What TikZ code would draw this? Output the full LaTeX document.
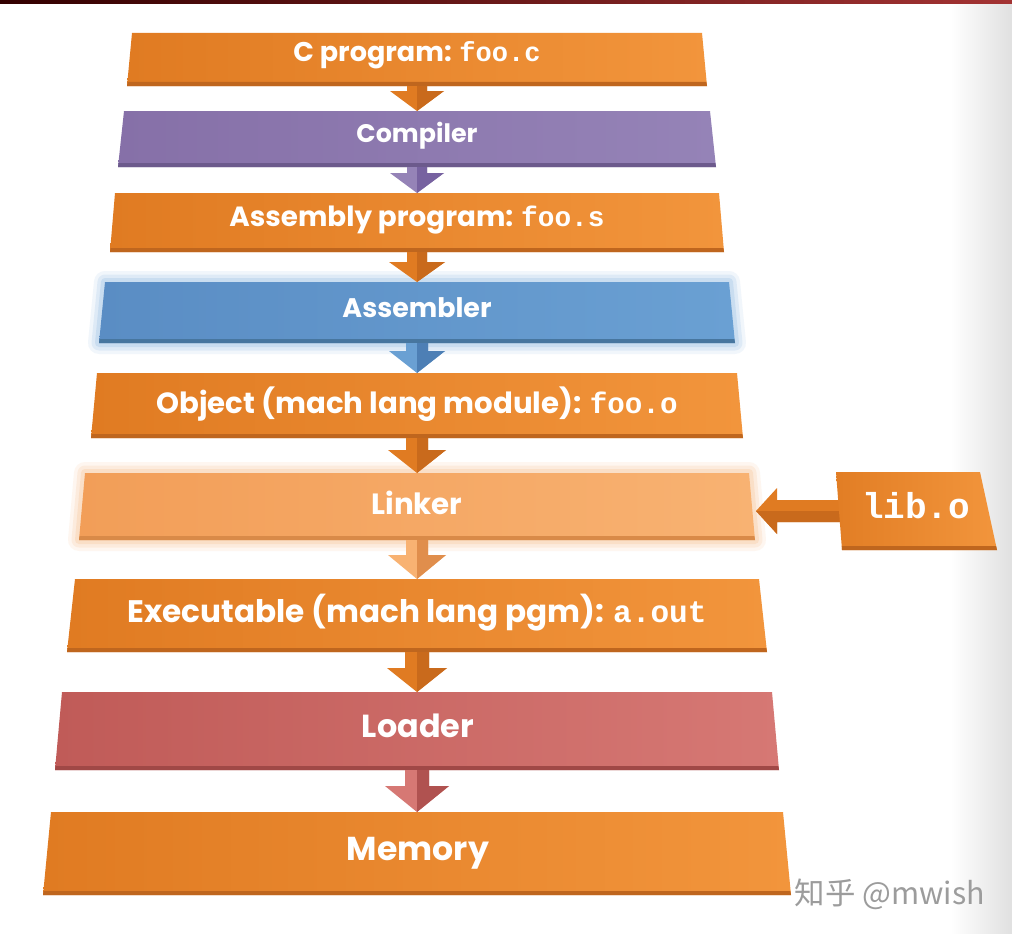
\documentclass[tikz,border=0pt]{standalone}
\usepackage{fontspec}
\setmainfont{Poppins}
\setmonofont{Liberation Mono}
\newfontfamily\cjkfont{Noto Sans CJK SC}
\usetikzlibrary{calc}
\definecolor{OrL}{HTML}{E07B22}
\definecolor{OrR}{HTML}{F2953C}
\definecolor{OrE}{HTML}{BF661E}
\definecolor{OrD}{HTML}{C96A1C}
\definecolor{PuL}{HTML}{8670A8}
\definecolor{PuR}{HTML}{9583B7}
\definecolor{PuE}{HTML}{6C5A8C}
\definecolor{PuD}{HTML}{7762A0}
\definecolor{BlL}{HTML}{5A8DC4}
\definecolor{BlR}{HTML}{6AA0D3}
\definecolor{BlE}{HTML}{47769F}
\definecolor{BlD}{HTML}{4D7FB5}
\definecolor{BlG}{HTML}{8DB7E2}
\definecolor{LkL}{HTML}{F29E58}
\definecolor{LkR}{HTML}{F8B272}
\definecolor{LkE}{HTML}{D98A48}
\definecolor{LkD}{HTML}{E08E4C}
\definecolor{LkG}{HTML}{F7BD88}
\definecolor{LoL}{HTML}{C05B58}
\definecolor{LoR}{HTML}{D67874}
\definecolor{LoE}{HTML}{A04846}
\definecolor{LoD}{HTML}{B05250}
\definecolor{WM}{HTML}{9C9C9C}
\newcommand\stagebox[8]{%
  \shade[left color=#6, right color=#7] ({417-#4},#2) -- ({417+#4},#2) -- ({417+#5},#3) -- ({417-#5},#3) -- cycle;
  \fill[#8] ({417-#5+0.6},{#3-4}) -- ({417+#5-0.6},{#3-4}) -- ({417+#5},#3) -- ({417-#5},#3) -- cycle;
  \coordinate (#1t) at (417,#2);
  \coordinate (#1b) at (417,#3);
}
\newcommand\stageglow[5]{%
  \foreach \w/\o in {22/0.12,15/0.18,8/0.25}{
    \draw[#5, line width=\w pt, opacity=\o, line join=round]
      ({417-#3},#1) -- ({417+#3},#1) -- ({417+#4},#2) -- ({417-#4},#2) -- cycle;
  }
}
\newcommand\flowarrow[7]{%
  \fill[#6] ($(#1)+(-#3,0)$) -- ($(#2)+(-#3,-#5)$) -- ($(#2)+(-#4,-#5)$) -- (#2)
     -- ($(#2)+(#4,-#5)$) -- ($(#2)+(#3,-#5)$) -- ($(#1)+(#3,0)$) -- cycle;
  \fill[#7] (#1) -- ($(#1)+(#3,0)$) -- ($(#2)+(#3,-#5)$) -- ($(#2)+(#4,-#5)$) -- (#2) -- cycle;
}
\tikzset{lbl/.style={text=white, font=\bfseries, inner sep=0pt, anchor=base}}
\begin{document}
\begin{tikzpicture}[x=1pt,y=-1pt]
\useasboundingbox (0,0) rectangle (1012,934);
\fill[white] (0,0) rectangle (1012,934);
\shade[left color=white, right color=black!12] (950,0) rectangle (1012,934);
\shade[left color=black!80!red, right color=red!55!black!80] (0,0) rectangle (1012,3.5);
% glows
\stageglow{282}{343}{312}{318}{BlG}
\stageglow{473}{540}{332}{338}{LkG}
% boxes
\stagebox{b1}{33}{86}{285}{290}{OrL}{OrR}{OrE}
\stagebox{b2}{111}{167}{293}{299}{PuL}{PuR}{PuE}
\stagebox{b3}{193}{252}{302}{307}{OrL}{OrR}{OrE}
\stagebox{b4}{282}{343}{312}{318}{BlL}{BlR}{BlE}
\stagebox{b5}{373}{438}{320}{326}{OrL}{OrR}{OrE}
\stagebox{b6}{473}{540}{332}{338}{LkL}{LkR}{LkE}
\stagebox{b7}{579}{652}{342}{350}{OrL}{OrR}{OrE}
\stagebox{b8}{692}{770}{355}{362}{LoL}{LoR}{LoE}
\stagebox{b9}{812}{895}{366}{374}{OrL}{OrR}{OrE}
% arrows
\flowarrow{b1b}{b2t}{10}{27}{20}{OrL}{OrD}
\flowarrow{b2b}{b3t}{10}{27}{20}{PuR}{PuD}
\flowarrow{b3b}{b4t}{10}{28}{20}{OrL}{OrD}
\flowarrow{b4b}{b5t}{11}{28}{22}{BlR}{BlD}
\flowarrow{b5b}{b6t}{11}{29}{23}{OrL}{OrD}
\flowarrow{b6b}{b7t}{11}{29}{24}{LkR}{LkD}
\flowarrow{b7b}{b8t}{12}{30}{24}{OrL}{OrD}
\flowarrow{b8b}{b9t}{12}{32}{26}{LoR}{LoD}
% lib.o
\coordinate (libw) at (838,511);
\coordinate (lnkr) at (756,511);
\fill[OrL] ($(libw)+(2,-11)$) -- ($(lnkr)+(21,-11)$) -- ($(lnkr)+(21,-23)$) -- (lnkr)
   -- ($(lnkr)+(21,23)$) -- ($(lnkr)+(21,11)$) -- ($(libw)+(2,11)$) -- cycle;
\fill[OrD] (lnkr) -- ($(lnkr)+(21,23)$) -- ($(lnkr)+(21,11)$) -- ($(libw)+(2,11)$) -- ($(libw)+(2,0)$) -- cycle;
\shade[left color=OrL!90!OrR, right color=OrR] (836,472) -- (980,472) -- (997,550) -- (842,550) -- cycle;
\fill[OrE] (841.9,546) -- (996.1,546) -- (997,550) -- (842,550) -- cycle;
% labels
\node[lbl] (n1) at (417,62) {\resizebox{247pt}{!}{C program: \texttt{foo.c}}};
\node[lbl] (n2) at (417,142) {\resizebox{121pt}{!}{Compiler}};
\node[lbl] (n3) at (417,226) {\resizebox{375pt}{!}{Assembly program: \texttt{foo.s}}};
\node[lbl] (n4) at (417,317) {\resizebox{149pt}{!}{Assembler}};
\node[lbl] (n5) at (417,413) {\resizebox{521pt}{!}{Object (mach lang module): \texttt{foo.o}}};
\node[lbl] (n6) at (417,514) {\resizebox{91pt}{!}{Linker}};
\node[lbl] (n7) at (417,622) {\resizebox{579pt}{!}{Executable (mach lang pgm): \texttt{a.out}}};
\node[lbl] (n8) at (418,737) {\resizebox{112pt}{!}{Loader}};
\node[lbl] (n9) at (418,860) {\resizebox{142pt}{!}{Memory}};
\node[lbl] (nlib) at (916,518) {\resizebox{108pt}{!}{\texttt{lib.o}}};
\node[anchor=base, text=WM, inner sep=0pt] (wm) at (890,904) {\resizebox{190pt}{!}{\cjkfont 知乎 @mwish}};
\end{tikzpicture}
\end{document}
